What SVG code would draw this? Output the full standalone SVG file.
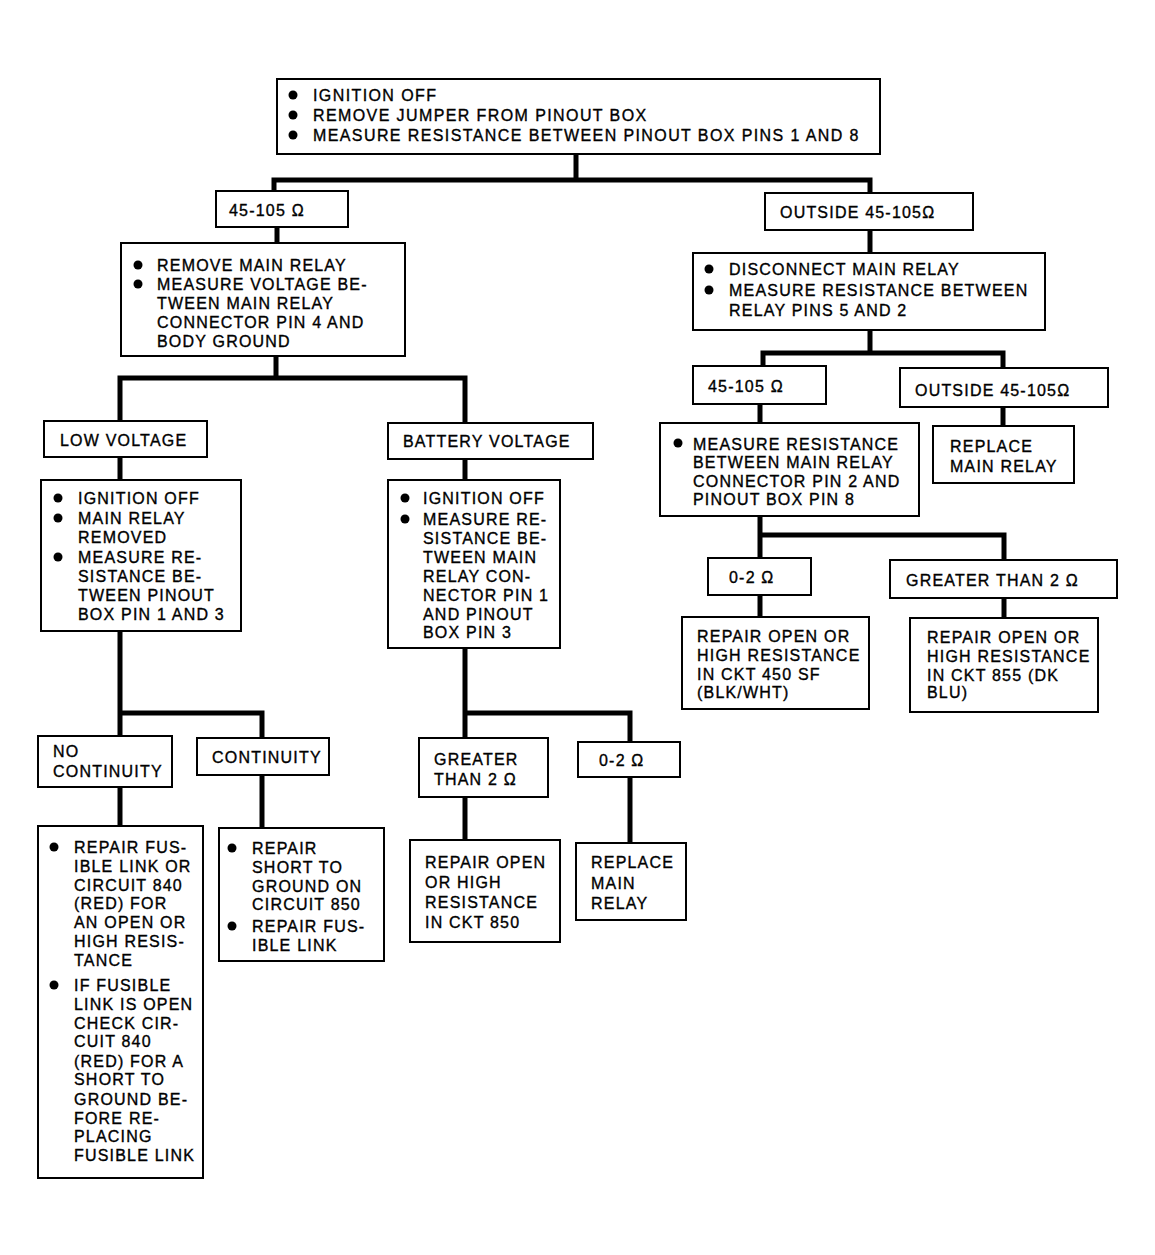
<svg xmlns="http://www.w3.org/2000/svg" width="1155" height="1255" viewBox="0 0 1155 1255">
<style>
.box{fill:#fff;stroke:#000;stroke-width:2}
.t{font-family:"Liberation Sans",Arial,sans-serif;font-size:16px;letter-spacing:1.2px;fill:#000;stroke:#000;stroke-width:0.35}
.b{fill:#000}
.c{fill:none;stroke:#000;stroke-width:5}
</style>
<rect width="1155" height="1255" fill="#fff"/>
<g id="connectors">
<path class="c" d="M576,154V180 M274,191V180H870V193"/>
<path class="c" d="M277,227V243"/>
<path class="c" d="M870,230V253"/>
<path class="c" d="M870,330V353 M763,367V353H1003V370"/>
<path class="c" d="M760,404V423"/>
<path class="c" d="M1003,407V426"/>
<path class="c" d="M760,516V558 M760,535H1004V560"/>
<path class="c" d="M760,595V617"/>
<path class="c" d="M1004,598V618"/>
<path class="c" d="M276,356V378 M120,421V378H465V423"/>
<path class="c" d="M120,457V480"/>
<path class="c" d="M465,459V480"/>
<path class="c" d="M120,631V736 M120,713H262V738"/>
<path class="c" d="M120,787V826"/>
<path class="c" d="M262,775V828"/>
<path class="c" d="M465,648V738 M465,713H630V742"/>
<path class="c" d="M465,797V840"/>
<path class="c" d="M630,777V843"/>
</g>
<g id="start">
<rect class="box" x="277" y="79" width="603" height="75"/>
<circle class="b" cx="293" cy="95" r="4.5"/><circle class="b" cx="293" cy="115" r="4.5"/><circle class="b" cx="293" cy="135" r="4.5"/>
<text class="t" style="letter-spacing:1.4px" x="313" y="101">IGNITION OFF</text>
<text class="t" style="letter-spacing:1.4px" x="313" y="121">REMOVE JUMPER FROM PINOUT BOX</text>
<text class="t" style="letter-spacing:1.4px" x="313" y="141">MEASURE RESISTANCE BETWEEN PINOUT BOX PINS 1 AND 8</text>
</g>
<g id="r1">
<rect class="box" x="216" y="191" width="132" height="36"/>
<text class="t" x="229" y="216">45-105 Ω</text>
</g>
<g id="r2">
<rect class="box" x="765" y="193" width="208" height="37"/>
<text class="t" x="780" y="218">OUTSIDE 45-105Ω</text>
</g>
<g id="stepA">
<rect class="box" x="121" y="243" width="284" height="113"/>
<circle class="b" cx="138" cy="265" r="4.5"/><circle class="b" cx="138" cy="284" r="4.5"/>
<text class="t" x="157" y="271">REMOVE MAIN RELAY</text>
<text class="t" x="157" y="290">MEASURE VOLTAGE BE-</text>
<text class="t" x="157" y="309">TWEEN MAIN RELAY</text>
<text class="t" x="157" y="328">CONNECTOR PIN 4 AND</text>
<text class="t" x="157" y="347">BODY GROUND</text>
</g>
<g id="stepB">
<rect class="box" x="693" y="253" width="352" height="77"/>
<circle class="b" cx="709" cy="269" r="4.5"/><circle class="b" cx="709" cy="290" r="4.5"/>
<text class="t" x="729" y="275">DISCONNECT MAIN RELAY</text>
<text class="t" x="729" y="296">MEASURE RESISTANCE BETWEEN</text>
<text class="t" x="729" y="316">RELAY PINS 5 AND 2</text>
</g>
<g id="r3">
<rect class="box" x="693" y="366" width="133" height="38"/>
<text class="t" x="708" y="392">45-105 Ω</text>
</g>
<g id="r4">
<rect class="box" x="900" y="368" width="208" height="39"/>
<text class="t" x="915" y="396">OUTSIDE 45-105Ω</text>
</g>
<g id="stepC">
<rect class="box" x="660" y="423" width="259" height="93"/>
<circle class="b" cx="678" cy="443" r="4.5"/>
<text class="t" x="693" y="450">MEASURE RESISTANCE</text>
<text class="t" x="693" y="468">BETWEEN MAIN RELAY</text>
<text class="t" x="693" y="487">CONNECTOR PIN 2 AND</text>
<text class="t" x="693" y="505">PINOUT BOX PIN 8</text>
</g>
<g id="replace1">
<rect class="box" x="933" y="426" width="141" height="57"/>
<text class="t" x="950" y="452">REPLACE</text>
<text class="t" x="950" y="472">MAIN RELAY</text>
</g>
<g id="r5">
<rect class="box" x="708" y="558" width="103" height="37"/>
<text class="t" x="729" y="583">0-2 Ω</text>
</g>
<g id="r6">
<rect class="box" x="890" y="560" width="227" height="38"/>
<text class="t" x="906" y="586">GREATER THAN 2 Ω</text>
</g>
<g id="repairD">
<rect class="box" x="682" y="617" width="187" height="92"/>
<text class="t" x="697" y="642">REPAIR OPEN OR</text>
<text class="t" x="697" y="661">HIGH RESISTANCE</text>
<text class="t" x="697" y="680">IN CKT 450 SF</text>
<text class="t" x="697" y="698">(BLK/WHT)</text>
</g>
<g id="repairE">
<rect class="box" x="910" y="618" width="188" height="94"/>
<text class="t" x="927" y="643">REPAIR OPEN OR</text>
<text class="t" x="927" y="662">HIGH RESISTANCE</text>
<text class="t" x="927" y="681">IN CKT 855 (DK</text>
<text class="t" x="927" y="698">BLU)</text>
</g>
<g id="low">
<rect class="box" x="44" y="421" width="163" height="36"/>
<text class="t" x="60" y="446">LOW VOLTAGE</text>
</g>
<g id="battery">
<rect class="box" x="388" y="423" width="205" height="36"/>
<text class="t" x="403" y="447">BATTERY VOLTAGE</text>
</g>
<g id="stepF">
<rect class="box" x="41" y="480" width="200" height="151"/>
<circle class="b" cx="58" cy="498" r="4.5"/><circle class="b" cx="58" cy="518" r="4.5"/><circle class="b" cx="58" cy="557" r="4.5"/>
<text class="t" x="78" y="504">IGNITION OFF</text>
<text class="t" x="78" y="524">MAIN RELAY</text>
<text class="t" x="78" y="543">REMOVED</text>
<text class="t" x="78" y="563">MEASURE RE-</text>
<text class="t" x="78" y="582">SISTANCE BE-</text>
<text class="t" x="78" y="601">TWEEN PINOUT</text>
<text class="t" x="78" y="620">BOX PIN 1 AND 3</text>
</g>
<g id="stepG">
<rect class="box" x="388" y="480" width="172" height="168"/>
<circle class="b" cx="405" cy="498" r="4.5"/><circle class="b" cx="405" cy="519" r="4.5"/>
<text class="t" x="423" y="504">IGNITION OFF</text>
<text class="t" x="423" y="525">MEASURE RE-</text>
<text class="t" x="423" y="544">SISTANCE BE-</text>
<text class="t" x="423" y="563">TWEEN MAIN</text>
<text class="t" x="423" y="582">RELAY CON-</text>
<text class="t" x="423" y="601">NECTOR PIN 1</text>
<text class="t" x="423" y="620">AND PINOUT</text>
<text class="t" x="423" y="638">BOX PIN 3</text>
</g>
<g id="nocont">
<rect class="box" x="38" y="736" width="134" height="51"/>
<text class="t" x="53" y="757">NO</text>
<text class="t" x="53" y="777">CONTINUITY</text>
</g>
<g id="cont">
<rect class="box" x="197" y="738" width="132" height="37"/>
<text class="t" x="212" y="763">CONTINUITY</text>
</g>
<g id="repairH">
<rect class="box" x="38" y="826" width="165" height="352"/>
<circle class="b" cx="54" cy="847" r="4.5"/><circle class="b" cx="54" cy="985" r="4.5"/>
<text class="t" x="74" y="853">REPAIR FUS-</text>
<text class="t" x="74" y="872">IBLE LINK OR</text>
<text class="t" x="74" y="891">CIRCUIT 840</text>
<text class="t" x="74" y="909">(RED) FOR</text>
<text class="t" x="74" y="928">AN OPEN OR</text>
<text class="t" x="74" y="947">HIGH RESIS-</text>
<text class="t" x="74" y="966">TANCE</text>
<text class="t" x="74" y="991">IF FUSIBLE</text>
<text class="t" x="74" y="1010">LINK IS OPEN</text>
<text class="t" x="74" y="1029">CHECK CIR-</text>
<text class="t" x="74" y="1047">CUIT 840</text>
<text class="t" x="74" y="1067">(RED) FOR A</text>
<text class="t" x="74" y="1085">SHORT TO</text>
<text class="t" x="74" y="1105">GROUND BE-</text>
<text class="t" x="74" y="1124">FORE RE-</text>
<text class="t" x="74" y="1142">PLACING</text>
<text class="t" x="74" y="1161">FUSIBLE LINK</text>
</g>
<g id="repairI">
<rect class="box" x="219" y="828" width="165" height="133"/>
<circle class="b" cx="232" cy="848" r="4.5"/><circle class="b" cx="232" cy="926" r="4.5"/>
<text class="t" x="252" y="854">REPAIR</text>
<text class="t" x="252" y="873">SHORT TO</text>
<text class="t" x="252" y="892">GROUND ON</text>
<text class="t" x="252" y="910">CIRCUIT 850</text>
<text class="t" x="252" y="932">REPAIR FUS-</text>
<text class="t" x="252" y="951">IBLE LINK</text>
</g>
<g id="r7">
<rect class="box" x="419" y="738" width="129" height="59"/>
<text class="t" x="434" y="765">GREATER</text>
<text class="t" x="434" y="785">THAN 2 Ω</text>
</g>
<g id="r8">
<rect class="box" x="578" y="742" width="102" height="35"/>
<text class="t" x="599" y="766">0-2 Ω</text>
</g>
<g id="repairJ">
<rect class="box" x="410" y="840" width="150" height="102"/>
<text class="t" x="425" y="868">REPAIR OPEN</text>
<text class="t" x="425" y="888">OR HIGH</text>
<text class="t" x="425" y="908">RESISTANCE</text>
<text class="t" x="425" y="928">IN CKT 850</text>
</g>
<g id="replace2">
<rect class="box" x="576" y="843" width="110" height="77"/>
<text class="t" x="591" y="868">REPLACE</text>
<text class="t" x="591" y="889">MAIN</text>
<text class="t" x="591" y="909">RELAY</text>
</g>
</svg>
